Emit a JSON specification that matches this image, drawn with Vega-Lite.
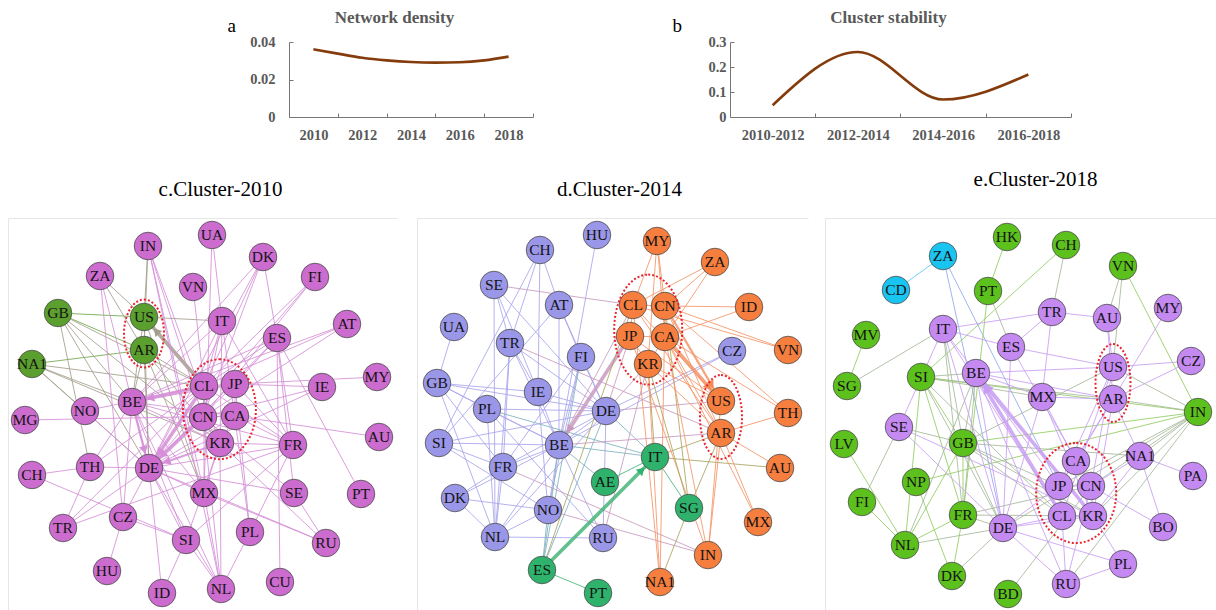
{
  "$schema": "https://vega.github.io/schema/vega-lite/v6.json",
  "width": 1216,
  "height": 610,
  "autosize": {"type": "none"},
  "padding": 0,
  "background": "white",
  "config": {
    "view": {"stroke": null},
    "font": "Liberation Serif",
    "axis": {
      "labelFont": "Liberation Serif",
      "labelFontWeight": "bold",
      "labelFontSize": 14.5,
      "labelColor": "#595959",
      "domainColor": "#767676",
      "tickColor": "#767676",
      "titleFont": "Liberation Serif",
      "grid": false
    }
  },
  "datasets": {
    "density": [
      {"year": 2010, "density": 0.0361},
      {"year": 2011, "density": 0.0338},
      {"year": 2012, "density": 0.0316},
      {"year": 2013, "density": 0.0302},
      {"year": 2014, "density": 0.0293},
      {"year": 2015, "density": 0.029},
      {"year": 2016, "density": 0.0292},
      {"year": 2017, "density": 0.0302},
      {"year": 2018, "density": 0.0322}
    ],
    "stability": [
      {"period": "2010-2012", "stability": 0.047},
      {"period": "2012-2014", "stability": 0.26},
      {"period": "2014-2016", "stability": 0.07},
      {"period": "2016-2018", "stability": 0.17}
    ],
    "nodesC": [
      {"id": "UA", "x": 204, "y": 17, "group": "c1"},
      {"id": "IN", "x": 140, "y": 28, "group": "c1"},
      {"id": "DK", "x": 255, "y": 39, "group": "c1"},
      {"id": "ZA", "x": 92, "y": 58, "group": "c1"},
      {"id": "VN", "x": 185, "y": 69, "group": "c1"},
      {"id": "FI", "x": 307, "y": 59, "group": "c1"},
      {"id": "GB", "x": 50, "y": 95, "group": "c2"},
      {"id": "US", "x": 136, "y": 99, "group": "c2"},
      {"id": "IT", "x": 214, "y": 103, "group": "c1"},
      {"id": "ES", "x": 269, "y": 120, "group": "c1"},
      {"id": "AT", "x": 339, "y": 106, "group": "c1"},
      {"id": "AR", "x": 136, "y": 132, "group": "c2"},
      {"id": "NA1", "x": 24, "y": 146, "group": "c2"},
      {"id": "CL", "x": 196, "y": 168, "group": "c1"},
      {"id": "JP", "x": 227, "y": 166, "group": "c1"},
      {"id": "IE", "x": 314, "y": 169, "group": "c1"},
      {"id": "MY", "x": 369, "y": 159, "group": "c1"},
      {"id": "BE", "x": 124, "y": 184, "group": "c1"},
      {"id": "NO", "x": 77, "y": 193, "group": "c1"},
      {"id": "MG", "x": 17, "y": 202, "group": "c1"},
      {"id": "CN", "x": 195, "y": 199, "group": "c1"},
      {"id": "CA", "x": 227, "y": 198, "group": "c1"},
      {"id": "AU", "x": 371, "y": 219, "group": "c1"},
      {"id": "KR", "x": 212, "y": 225, "group": "c1"},
      {"id": "FR", "x": 285, "y": 227, "group": "c1"},
      {"id": "CH", "x": 24, "y": 257, "group": "c1"},
      {"id": "TH", "x": 82, "y": 249, "group": "c1"},
      {"id": "DE", "x": 141, "y": 250, "group": "c1"},
      {"id": "MX", "x": 196, "y": 275, "group": "c1"},
      {"id": "SE", "x": 286, "y": 275, "group": "c1"},
      {"id": "PT", "x": 353, "y": 276, "group": "c1"},
      {"id": "TR", "x": 55, "y": 310, "group": "c1"},
      {"id": "CZ", "x": 115, "y": 299, "group": "c1"},
      {"id": "SI", "x": 178, "y": 322, "group": "c1"},
      {"id": "PL", "x": 242, "y": 314, "group": "c1"},
      {"id": "RU", "x": 318, "y": 325, "group": "c1"},
      {"id": "HU", "x": 99, "y": 353, "group": "c1"},
      {"id": "CU", "x": 272, "y": 364, "group": "c1"},
      {"id": "ID", "x": 154, "y": 375, "group": "c1"},
      {"id": "NL", "x": 213, "y": 371, "group": "c1"}
    ],
    "linksC": [
      {"source": "GB", "target": "US", "weight": 1}, {"source": "GB", "target": "AR", "weight": 1},
      {"source": "NA1", "target": "AR", "weight": 1}, {"source": "GB", "target": "BE", "weight": 1},
      {"source": "GB", "target": "DE", "weight": 1}, {"source": "GB", "target": "CL", "weight": 1},
      {"source": "GB", "target": "TH", "weight": 1}, {"source": "GB", "target": "KR", "weight": 1},
      {"source": "NA1", "target": "BE", "weight": 1}, {"source": "NA1", "target": "CL", "weight": 1},
      {"source": "NA1", "target": "NO", "weight": 1}, {"source": "NA1", "target": "DE", "weight": 1},
      {"source": "NA1", "target": "KR", "weight": 1},
      {"source": "US", "target": "IN", "weight": 1}, {"source": "US", "target": "ZA", "weight": 1},
      {"source": "US", "target": "IT", "weight": 1}, {"source": "CL", "target": "US", "weight": 3},
      {"source": "US", "target": "BE", "weight": 1}, {"source": "US", "target": "DE", "weight": 1},
      {"source": "US", "target": "MX", "weight": 1},
      {"source": "AR", "target": "BE", "weight": 1}, {"source": "AR", "target": "DE", "weight": 1},
      {"source": "AR", "target": "CL", "weight": 1}, {"source": "AR", "target": "MX", "weight": 1},
      {"source": "AR", "target": "KR", "weight": 1}, {"source": "AR", "target": "ZA", "weight": 1},
      {"source": "AR", "target": "IN", "weight": 1},
      {"source": "IN", "target": "CN", "weight": 1}, {"source": "IN", "target": "KR", "weight": 1},
      {"source": "IN", "target": "NL", "weight": 1}, {"source": "IN", "target": "MX", "weight": 1},
      {"source": "ZA", "target": "CZ", "weight": 1}, {"source": "ZA", "target": "DE", "weight": 1},
      {"source": "UA", "target": "IT", "weight": 1}, {"source": "UA", "target": "MX", "weight": 1},
      {"source": "VN", "target": "CL", "weight": 1},
      {"source": "DK", "target": "BE", "weight": 1}, {"source": "DK", "target": "DE", "weight": 1},
      {"source": "DK", "target": "CN", "weight": 1}, {"source": "DK", "target": "ES", "weight": 1},
      {"source": "DK", "target": "CL", "weight": 1},
      {"source": "FI", "target": "CN", "weight": 1}, {"source": "FI", "target": "CL", "weight": 1},
      {"source": "FI", "target": "DE", "weight": 1},
      {"source": "IT", "target": "BE", "weight": 1}, {"source": "IT", "target": "DE", "weight": 1},
      {"source": "IT", "target": "CN", "weight": 1}, {"source": "IT", "target": "CL", "weight": 1},
      {"source": "IT", "target": "FR", "weight": 1}, {"source": "IT", "target": "KR", "weight": 1},
      {"source": "IT", "target": "PL", "weight": 1},
      {"source": "ES", "target": "CL", "weight": 1}, {"source": "ES", "target": "BE", "weight": 1},
      {"source": "ES", "target": "FR", "weight": 1}, {"source": "ES", "target": "SE", "weight": 1},
      {"source": "ES", "target": "CU", "weight": 1}, {"source": "ES", "target": "PT", "weight": 1},
      {"source": "ES", "target": "JP", "weight": 1}, {"source": "ES", "target": "DE", "weight": 1},
      {"source": "AT", "target": "CL", "weight": 1}, {"source": "AT", "target": "BE", "weight": 1},
      {"source": "AT", "target": "CN", "weight": 1},
      {"source": "IE", "target": "JP", "weight": 1}, {"source": "IE", "target": "CN", "weight": 1},
      {"source": "IE", "target": "DE", "weight": 1},
      {"source": "MY", "target": "JP", "weight": 1}, {"source": "MG", "target": "CA", "weight": 1},
      {"source": "AU", "target": "CA", "weight": 1},
      {"source": "FR", "target": "CL", "weight": 1}, {"source": "FR", "target": "DE", "weight": 1},
      {"source": "FR", "target": "KR", "weight": 1}, {"source": "FR", "target": "BE", "weight": 1},
      {"source": "FR", "target": "TR", "weight": 1}, {"source": "FR", "target": "SI", "weight": 1},
      {"source": "FR", "target": "JP", "weight": 1}, {"source": "FR", "target": "CA", "weight": 1},
      {"source": "CH", "target": "TH", "weight": 1}, {"source": "CH", "target": "SI", "weight": 1},
      {"source": "TH", "target": "TR", "weight": 1}, {"source": "TH", "target": "DE", "weight": 1},
      {"source": "TH", "target": "CL", "weight": 1}, {"source": "TH", "target": "BE", "weight": 1},
      {"source": "TR", "target": "DE", "weight": 1}, {"source": "TR", "target": "CL", "weight": 1},
      {"source": "CZ", "target": "BE", "weight": 1}, {"source": "CZ", "target": "DE", "weight": 1},
      {"source": "CZ", "target": "HU", "weight": 1}, {"source": "CZ", "target": "SI", "weight": 1},
      {"source": "ID", "target": "SI", "weight": 1}, {"source": "ID", "target": "DE", "weight": 1},
      {"source": "NL", "target": "DE", "weight": 1}, {"source": "NL", "target": "SI", "weight": 1},
      {"source": "NL", "target": "BE", "weight": 1}, {"source": "NL", "target": "PL", "weight": 1},
      {"source": "NL", "target": "MX", "weight": 1}, {"source": "NL", "target": "KR", "weight": 1},
      {"source": "NL", "target": "CN", "weight": 1},
      {"source": "PL", "target": "JP", "weight": 1}, {"source": "PL", "target": "FR", "weight": 1},
      {"source": "RU", "target": "MX", "weight": 1}, {"source": "RU", "target": "SE", "weight": 1},
      {"source": "RU", "target": "KR", "weight": 1}, {"source": "RU", "target": "DE", "weight": 1},
      {"source": "SE", "target": "DE", "weight": 1}, {"source": "SE", "target": "CN", "weight": 1},
      {"source": "MX", "target": "DE", "weight": 1}, {"source": "MX", "target": "KR", "weight": 1},
      {"source": "MX", "target": "CL", "weight": 1}, {"source": "MX", "target": "BE", "weight": 1},
      {"source": "SI", "target": "DE", "weight": 1}, {"source": "SI", "target": "BE", "weight": 1},
      {"source": "SI", "target": "KR", "weight": 1},
      {"source": "NO", "target": "DE", "weight": 1}, {"source": "NO", "target": "CL", "weight": 1},
      {"source": "BE", "target": "DE", "weight": 2}, {"source": "CL", "target": "BE", "weight": 3},
      {"source": "BE", "target": "KR", "weight": 1}, {"source": "BE", "target": "CA", "weight": 1},
      {"source": "BE", "target": "JP", "weight": 1},
      {"source": "CN", "target": "DE", "weight": 3}, {"source": "CL", "target": "DE", "weight": 3},
      {"source": "KR", "target": "DE", "weight": 2}, {"source": "DE", "target": "JP", "weight": 1},
      {"source": "DE", "target": "CA", "weight": 1},
      {"source": "CL", "target": "JP", "weight": 1}, {"source": "CL", "target": "CN", "weight": 1},
      {"source": "CN", "target": "CA", "weight": 1}, {"source": "JP", "target": "CA", "weight": 1},
      {"source": "KR", "target": "CN", "weight": 1}, {"source": "KR", "target": "CA", "weight": 1}
    ],
    "ringsC": [
      {"ring": "US-AR", "node": "US"}, {"ring": "US-AR", "node": "AR"},
      {"ring": "core", "node": "CL"}, {"ring": "core", "node": "JP"}, {"ring": "core", "node": "CN"},
      {"ring": "core", "node": "CA"}, {"ring": "core", "node": "KR"}
    ],
    "nodesD": [
      {"id": "HU", "x": 180, "y": 17, "group": "d1"},
      {"id": "MY", "x": 240, "y": 23, "group": "d2"},
      {"id": "CH", "x": 123, "y": 32, "group": "d1"},
      {"id": "ZA", "x": 298, "y": 44, "group": "d2"},
      {"id": "SE", "x": 77, "y": 67, "group": "d1"},
      {"id": "AT", "x": 142, "y": 87, "group": "d1"},
      {"id": "CL", "x": 216, "y": 87, "group": "d2"},
      {"id": "CN", "x": 248, "y": 88, "group": "d2"},
      {"id": "ID", "x": 332, "y": 89, "group": "d2"},
      {"id": "UA", "x": 37, "y": 109, "group": "d1"},
      {"id": "TR", "x": 93, "y": 125, "group": "d1"},
      {"id": "JP", "x": 213, "y": 118, "group": "d2"},
      {"id": "CA", "x": 248, "y": 119, "group": "d2"},
      {"id": "VN", "x": 371, "y": 132, "group": "d2"},
      {"id": "FI", "x": 164, "y": 139, "group": "d1"},
      {"id": "CZ", "x": 315, "y": 133, "group": "d1"},
      {"id": "KR", "x": 231, "y": 146, "group": "d2"},
      {"id": "GB", "x": 20, "y": 165, "group": "d1"},
      {"id": "IE", "x": 121, "y": 174, "group": "d1"},
      {"id": "PL", "x": 70, "y": 191, "group": "d1"},
      {"id": "DE", "x": 189, "y": 193, "group": "d1"},
      {"id": "US", "x": 304, "y": 183, "group": "d2"},
      {"id": "TH", "x": 371, "y": 195, "group": "d2"},
      {"id": "SI", "x": 22, "y": 225, "group": "d1"},
      {"id": "BE", "x": 142, "y": 227, "group": "d1"},
      {"id": "AR", "x": 304, "y": 215, "group": "d2"},
      {"id": "IT", "x": 238, "y": 239, "group": "d3"},
      {"id": "FR", "x": 86, "y": 249, "group": "d1"},
      {"id": "AU", "x": 363, "y": 250, "group": "d2"},
      {"id": "AE", "x": 188, "y": 264, "group": "d3"},
      {"id": "DK", "x": 38, "y": 280, "group": "d1"},
      {"id": "SG", "x": 272, "y": 290, "group": "d3"},
      {"id": "NO", "x": 131, "y": 292, "group": "d1"},
      {"id": "MX", "x": 341, "y": 304, "group": "d2"},
      {"id": "NL", "x": 78, "y": 319, "group": "d1"},
      {"id": "RU", "x": 186, "y": 320, "group": "d1"},
      {"id": "IN", "x": 291, "y": 337, "group": "d2"},
      {"id": "ES", "x": 125, "y": 352, "group": "d3"},
      {"id": "NA1", "x": 243, "y": 364, "group": "d2"},
      {"id": "PT", "x": 181, "y": 375, "group": "d3"}
    ],
    "linksD": [
      {"source": "CH", "target": "TR", "weight": 1}, {"source": "CH", "target": "AT", "weight": 1},
      {"source": "CH", "target": "SI", "weight": 1}, {"source": "CH", "target": "IE", "weight": 1},
      {"source": "SE", "target": "TR", "weight": 1}, {"source": "SE", "target": "IE", "weight": 1},
      {"source": "SE", "target": "CL", "weight": 1}, {"source": "SE", "target": "NL", "weight": 1},
      {"source": "SE", "target": "DE", "weight": 1}, {"source": "HU", "target": "BE", "weight": 1},
      {"source": "AT", "target": "FI", "weight": 1}, {"source": "AT", "target": "DE", "weight": 1},
      {"source": "AT", "target": "BE", "weight": 1}, {"source": "AT", "target": "SI", "weight": 1},
      {"source": "UA", "target": "GB", "weight": 1},
      {"source": "TR", "target": "IE", "weight": 1}, {"source": "TR", "target": "FR", "weight": 1},
      {"source": "TR", "target": "BE", "weight": 1}, {"source": "TR", "target": "DE", "weight": 1},
      {"source": "TR", "target": "AR", "weight": 1}, {"source": "TR", "target": "NL", "weight": 1},
      {"source": "FI", "target": "DE", "weight": 1}, {"source": "FI", "target": "BE", "weight": 1},
      {"source": "FI", "target": "NO", "weight": 1}, {"source": "FI", "target": "FR", "weight": 1},
      {"source": "FI", "target": "ES", "weight": 1},
      {"source": "GB", "target": "IE", "weight": 1}, {"source": "GB", "target": "DE", "weight": 1},
      {"source": "GB", "target": "PL", "weight": 1}, {"source": "GB", "target": "BE", "weight": 1},
      {"source": "GB", "target": "FR", "weight": 1}, {"source": "GB", "target": "NL", "weight": 1},
      {"source": "IE", "target": "BE", "weight": 1}, {"source": "IE", "target": "DE", "weight": 1},
      {"source": "IE", "target": "NO", "weight": 1},
      {"source": "PL", "target": "BE", "weight": 1}, {"source": "PL", "target": "DE", "weight": 1},
      {"source": "PL", "target": "IT", "weight": 1}, {"source": "PL", "target": "NL", "weight": 1},
      {"source": "PL", "target": "RU", "weight": 1},
      {"source": "SI", "target": "BE", "weight": 1}, {"source": "SI", "target": "FR", "weight": 1},
      {"source": "SI", "target": "DE", "weight": 1}, {"source": "SI", "target": "NO", "weight": 1},
      {"source": "FR", "target": "BE", "weight": 1}, {"source": "FR", "target": "DE", "weight": 1},
      {"source": "FR", "target": "DK", "weight": 1}, {"source": "FR", "target": "NL", "weight": 1},
      {"source": "FR", "target": "IN", "weight": 1},
      {"source": "DK", "target": "NO", "weight": 1}, {"source": "DK", "target": "NL", "weight": 1},
      {"source": "DK", "target": "BE", "weight": 1},
      {"source": "NL", "target": "BE", "weight": 1}, {"source": "NL", "target": "RU", "weight": 1},
      {"source": "NL", "target": "NO", "weight": 1}, {"source": "NL", "target": "DE", "weight": 1},
      {"source": "NO", "target": "BE", "weight": 1}, {"source": "NO", "target": "IN", "weight": 1},
      {"source": "NO", "target": "ES", "weight": 1},
      {"source": "RU", "target": "DE", "weight": 1}, {"source": "RU", "target": "BE", "weight": 1},
      {"source": "RU", "target": "KR", "weight": 1},
      {"source": "DE", "target": "BE", "weight": 1}, {"source": "DE", "target": "CZ", "weight": 1},
      {"source": "DE", "target": "US", "weight": 1}, {"source": "DE", "target": "IT", "weight": 1},
      {"source": "DE", "target": "JP", "weight": 1}, {"source": "DE", "target": "KR", "weight": 1},
      {"source": "CZ", "target": "BE", "weight": 1},
      {"source": "BE", "target": "AR", "weight": 1}, {"source": "BE", "target": "IT", "weight": 1},
      {"source": "JP", "target": "BE", "weight": 3}, {"source": "BE", "target": "CL", "weight": 1},
      {"source": "IT", "target": "AE", "weight": 1}, {"source": "IT", "target": "SG", "weight": 1},
      {"source": "IT", "target": "AU", "weight": 1}, {"source": "IT", "target": "AR", "weight": 1},
      {"source": "IT", "target": "KR", "weight": 1}, {"source": "ES", "target": "IT", "weight": 3},
      {"source": "ES", "target": "PT", "weight": 1}, {"source": "ES", "target": "BE", "weight": 1},
      {"source": "ES", "target": "DE", "weight": 1}, {"source": "ES", "target": "CL", "weight": 1},
      {"source": "AE", "target": "BE", "weight": 1}, {"source": "SG", "target": "AR", "weight": 1},
      {"source": "SG", "target": "CN", "weight": 1},
      {"source": "MY", "target": "CL", "weight": 1}, {"source": "MY", "target": "CN", "weight": 1},
      {"source": "MY", "target": "CA", "weight": 1}, {"source": "MY", "target": "KR", "weight": 1},
      {"source": "ZA", "target": "CN", "weight": 1}, {"source": "ZA", "target": "CA", "weight": 1},
      {"source": "ZA", "target": "CL", "weight": 1},
      {"source": "ID", "target": "CN", "weight": 1}, {"source": "ID", "target": "CA", "weight": 1},
      {"source": "VN", "target": "CN", "weight": 1}, {"source": "VN", "target": "CL", "weight": 1},
      {"source": "TH", "target": "CN", "weight": 1}, {"source": "TH", "target": "AR", "weight": 1},
      {"source": "TH", "target": "CA", "weight": 1},
      {"source": "CA", "target": "US", "weight": 3}, {"source": "CN", "target": "US", "weight": 2},
      {"source": "CL", "target": "AR", "weight": 1}, {"source": "CL", "target": "US", "weight": 1},
      {"source": "JP", "target": "US", "weight": 1}, {"source": "KR", "target": "US", "weight": 1},
      {"source": "KR", "target": "AR", "weight": 1}, {"source": "KR", "target": "NA1", "weight": 1},
      {"source": "CN", "target": "NA1", "weight": 1}, {"source": "JP", "target": "IN", "weight": 1},
      {"source": "CA", "target": "IN", "weight": 1}, {"source": "AR", "target": "IN", "weight": 1},
      {"source": "US", "target": "IN", "weight": 1}, {"source": "AR", "target": "MX", "weight": 1},
      {"source": "AR", "target": "AU", "weight": 1}, {"source": "CA", "target": "MX", "weight": 1},
      {"source": "KR", "target": "SG", "weight": 1}, {"source": "NA1", "target": "SG", "weight": 1},
      {"source": "NA1", "target": "CL", "weight": 1}, {"source": "CA", "target": "AR", "weight": 1},
      {"source": "CN", "target": "AR", "weight": 1},
      {"source": "CL", "target": "CN", "weight": 1}, {"source": "CL", "target": "JP", "weight": 1},
      {"source": "CN", "target": "CA", "weight": 1}, {"source": "JP", "target": "CA", "weight": 1},
      {"source": "JP", "target": "KR", "weight": 1}, {"source": "CA", "target": "KR", "weight": 1}
    ],
    "ringsD": [
      {"ring": "US-AR", "node": "US"}, {"ring": "US-AR", "node": "AR"},
      {"ring": "core", "node": "CL"}, {"ring": "core", "node": "CN"}, {"ring": "core", "node": "JP"},
      {"ring": "core", "node": "CA"}, {"ring": "core", "node": "KR"}
    ],
    "nodesE": [
      {"id": "HK", "x": 182, "y": 19, "group": "e2"},
      {"id": "CH", "x": 241, "y": 27, "group": "e2"},
      {"id": "ZA", "x": 118, "y": 38, "group": "e3"},
      {"id": "VN", "x": 298, "y": 48, "group": "e2"},
      {"id": "CD", "x": 71, "y": 72, "group": "e3"},
      {"id": "PT", "x": 163, "y": 73, "group": "e2"},
      {"id": "TR", "x": 227, "y": 94, "group": "e1"},
      {"id": "MY", "x": 343, "y": 90, "group": "e1"},
      {"id": "AU", "x": 282, "y": 100, "group": "e1"},
      {"id": "IT", "x": 118, "y": 111, "group": "e1"},
      {"id": "MV", "x": 41, "y": 117, "group": "e2"},
      {"id": "ES", "x": 186, "y": 129, "group": "e1"},
      {"id": "CZ", "x": 366, "y": 143, "group": "e1"},
      {"id": "US", "x": 288, "y": 149, "group": "e1"},
      {"id": "SI", "x": 96, "y": 159, "group": "e2"},
      {"id": "BE", "x": 151, "y": 155, "group": "e1"},
      {"id": "SG", "x": 22, "y": 168, "group": "e2"},
      {"id": "MX", "x": 217, "y": 179, "group": "e1"},
      {"id": "AR", "x": 288, "y": 181, "group": "e1"},
      {"id": "IN", "x": 373, "y": 194, "group": "e2"},
      {"id": "SE", "x": 74, "y": 209, "group": "e1"},
      {"id": "GB", "x": 138, "y": 225, "group": "e2"},
      {"id": "LV", "x": 19, "y": 226, "group": "e2"},
      {"id": "NA1", "x": 315, "y": 238, "group": "e1"},
      {"id": "CA", "x": 251, "y": 243, "group": "e1"},
      {"id": "PA", "x": 368, "y": 258, "group": "e1"},
      {"id": "NP", "x": 91, "y": 264, "group": "e2"},
      {"id": "JP", "x": 234, "y": 268, "group": "e1"},
      {"id": "CN", "x": 266, "y": 268, "group": "e1"},
      {"id": "FI", "x": 37, "y": 284, "group": "e2"},
      {"id": "FR", "x": 138, "y": 297, "group": "e2"},
      {"id": "CL", "x": 237, "y": 298, "group": "e1"},
      {"id": "KR", "x": 268, "y": 298, "group": "e1"},
      {"id": "DE", "x": 178, "y": 310, "group": "e1"},
      {"id": "BO", "x": 338, "y": 309, "group": "e1"},
      {"id": "NL", "x": 80, "y": 327, "group": "e2"},
      {"id": "PL", "x": 298, "y": 346, "group": "e1"},
      {"id": "DK", "x": 127, "y": 358, "group": "e2"},
      {"id": "RU", "x": 241, "y": 366, "group": "e1"},
      {"id": "BD", "x": 183, "y": 376, "group": "e2"}
    ],
    "linksE": [
      {"source": "ZA", "target": "CD", "weight": 1}, {"source": "ZA", "target": "JP", "weight": 1},
      {"source": "ZA", "target": "DE", "weight": 1},
      {"source": "HK", "target": "PT", "weight": 1}, {"source": "PT", "target": "FR", "weight": 1},
      {"source": "PT", "target": "ES", "weight": 1},
      {"source": "CH", "target": "TR", "weight": 1}, {"source": "CH", "target": "SI", "weight": 1},
      {"source": "VN", "target": "AU", "weight": 1}, {"source": "VN", "target": "US", "weight": 1},
      {"source": "VN", "target": "IN", "weight": 1},
      {"source": "MV", "target": "SG", "weight": 1}, {"source": "SG", "target": "IT", "weight": 1},
      {"source": "SI", "target": "BE", "weight": 1}, {"source": "SI", "target": "GB", "weight": 1},
      {"source": "SI", "target": "FR", "weight": 1}, {"source": "SI", "target": "MX", "weight": 1},
      {"source": "SI", "target": "AR", "weight": 1}, {"source": "SI", "target": "IN", "weight": 1},
      {"source": "SI", "target": "DE", "weight": 1}, {"source": "SI", "target": "CL", "weight": 1},
      {"source": "SI", "target": "NL", "weight": 1},
      {"source": "LV", "target": "NL", "weight": 1}, {"source": "FI", "target": "NL", "weight": 1},
      {"source": "FI", "target": "SE", "weight": 1}, {"source": "NP", "target": "DK", "weight": 1},
      {"source": "NP", "target": "IN", "weight": 1},
      {"source": "NL", "target": "FR", "weight": 1}, {"source": "NL", "target": "DE", "weight": 1},
      {"source": "NL", "target": "GB", "weight": 1}, {"source": "NL", "target": "BE", "weight": 1},
      {"source": "DK", "target": "FR", "weight": 1}, {"source": "DK", "target": "DE", "weight": 1},
      {"source": "BD", "target": "CN", "weight": 1},
      {"source": "FR", "target": "GB", "weight": 1}, {"source": "FR", "target": "DE", "weight": 1},
      {"source": "FR", "target": "BE", "weight": 1}, {"source": "FR", "target": "CN", "weight": 1},
      {"source": "FR", "target": "KR", "weight": 1},
      {"source": "GB", "target": "BE", "weight": 1}, {"source": "GB", "target": "DE", "weight": 1},
      {"source": "GB", "target": "CL", "weight": 1}, {"source": "GB", "target": "JP", "weight": 1},
      {"source": "GB", "target": "IN", "weight": 1}, {"source": "GB", "target": "KR", "weight": 1},
      {"source": "GB", "target": "US", "weight": 1}, {"source": "GB", "target": "NA1", "weight": 1},
      {"source": "IN", "target": "US", "weight": 1}, {"source": "IN", "target": "AR", "weight": 1},
      {"source": "IN", "target": "CN", "weight": 1}, {"source": "IN", "target": "KR", "weight": 1},
      {"source": "IN", "target": "NA1", "weight": 1}, {"source": "IN", "target": "DE", "weight": 1},
      {"source": "IN", "target": "RU", "weight": 1}, {"source": "IN", "target": "JP", "weight": 1},
      {"source": "IT", "target": "TR", "weight": 1}, {"source": "TR", "target": "AU", "weight": 1},
      {"source": "IT", "target": "ES", "weight": 1}, {"source": "IT", "target": "BE", "weight": 1},
      {"source": "IT", "target": "DE", "weight": 1}, {"source": "IT", "target": "CL", "weight": 1},
      {"source": "IT", "target": "GB", "weight": 1}, {"source": "IT", "target": "FR", "weight": 1},
      {"source": "ES", "target": "TR", "weight": 1}, {"source": "ES", "target": "DE", "weight": 1},
      {"source": "ES", "target": "US", "weight": 1}, {"source": "ES", "target": "CN", "weight": 1},
      {"source": "BE", "target": "US", "weight": 1}, {"source": "CL", "target": "BE", "weight": 3},
      {"source": "KR", "target": "BE", "weight": 3}, {"source": "BE", "target": "DE", "weight": 1},
      {"source": "BE", "target": "MX", "weight": 1}, {"source": "BE", "target": "JP", "weight": 1},
      {"source": "BE", "target": "RU", "weight": 1}, {"source": "BE", "target": "AR", "weight": 1},
      {"source": "TR", "target": "MX", "weight": 1}, {"source": "AU", "target": "US", "weight": 1},
      {"source": "AU", "target": "AR", "weight": 1}, {"source": "MY", "target": "AR", "weight": 1},
      {"source": "CZ", "target": "US", "weight": 1}, {"source": "CZ", "target": "AR", "weight": 1},
      {"source": "US", "target": "CL", "weight": 1}, {"source": "US", "target": "JP", "weight": 1},
      {"source": "US", "target": "CN", "weight": 1}, {"source": "AR", "target": "CA", "weight": 1},
      {"source": "AR", "target": "KR", "weight": 1}, {"source": "AR", "target": "JP", "weight": 1},
      {"source": "AR", "target": "NA1", "weight": 1},
      {"source": "MX", "target": "DE", "weight": 1}, {"source": "MX", "target": "KR", "weight": 1},
      {"source": "MX", "target": "CA", "weight": 1}, {"source": "MX", "target": "AR", "weight": 1},
      {"source": "SE", "target": "IT", "weight": 1}, {"source": "SE", "target": "GB", "weight": 1},
      {"source": "SE", "target": "KR", "weight": 1}, {"source": "SE", "target": "DE", "weight": 1},
      {"source": "NA1", "target": "CN", "weight": 1}, {"source": "NA1", "target": "KR", "weight": 1},
      {"source": "NA1", "target": "BO", "weight": 1}, {"source": "NA1", "target": "PA", "weight": 1},
      {"source": "CN", "target": "BO", "weight": 1}, {"source": "KR", "target": "PL", "weight": 1},
      {"source": "CL", "target": "RU", "weight": 1}, {"source": "CN", "target": "RU", "weight": 1},
      {"source": "DE", "target": "CL", "weight": 1}, {"source": "DE", "target": "JP", "weight": 1},
      {"source": "DE", "target": "KR", "weight": 1}, {"source": "DE", "target": "RU", "weight": 1},
      {"source": "DE", "target": "PL", "weight": 1}, {"source": "RU", "target": "PL", "weight": 1},
      {"source": "CA", "target": "JP", "weight": 1}, {"source": "CA", "target": "CN", "weight": 1},
      {"source": "JP", "target": "CN", "weight": 1}, {"source": "JP", "target": "CL", "weight": 1},
      {"source": "CN", "target": "KR", "weight": 1}, {"source": "CL", "target": "KR", "weight": 1}
    ],
    "ringsE": [
      {"ring": "US-AR", "node": "US"}, {"ring": "US-AR", "node": "AR"},
      {"ring": "core", "node": "CA"}, {"ring": "core", "node": "JP"}, {"ring": "core", "node": "CN"},
      {"ring": "core", "node": "CL"}, {"ring": "core", "node": "KR"}
    ]
  },
  "layer": [
    {
      "data": {"name": "density"},
      "mark": {"type": "line", "interpolate": "monotone", "color": "#843C0C", "strokeWidth": 2.6},
      "encoding": {
        "x": {
          "field": "year", "type": "quantitative",
          "scale": {"domain": [2009, 2019], "range": [289, 533], "nice": false, "zero": false},
          "axis": {
            "orient": "bottom", "offset": -493, "values": [2010, 2012, 2014, 2016, 2018], "format": "d",
            "tickOffset": 24.4, "labelOffset": -24.4, "tickSize": -4, "labelPadding": 15,
            "title": "a", "titleX": 227, "titleY": -86, "titleAlign": "left", "titleBaseline": "alphabetic",
            "titleAngle": 0, "titleFontSize": 19, "titleFontWeight": "normal", "titleColor": "#000000"
          }
        },
        "y": {
          "field": "density", "type": "quantitative",
          "scale": {"domain": [0, 0.04], "range": [117, 42], "nice": false, "zero": false},
          "axis": {
            "orient": "left", "offset": -289, "values": [0, 0.02, 0.04], "format": ".2~f",
            "tickSize": -4, "labelPadding": 18,
            "title": "Network density", "titleX": 105, "titleY": 22, "titleAlign": "center",
            "titleBaseline": "alphabetic", "titleAngle": 0, "titleFontSize": 17, "titleFontWeight": "bold",
            "titleColor": "#595959"
          }
        }
      }
    },
    {
      "data": {"name": "stability"},
      "mark": {"type": "line", "interpolate": "monotone", "color": "#843C0C", "strokeWidth": 2.6},
      "encoding": {
        "x": {
          "field": "period", "type": "ordinal", "sort": null,
          "scale": {"type": "point", "range": [730, 1071], "padding": 0.5},
          "axis": {
            "orient": "bottom", "offset": -493, "labelAngle": 0,
            "tickOffset": 42.6, "labelOffset": -42.6, "tickSize": -4, "labelPadding": 15,
            "title": "b", "titleX": 672, "titleY": -86, "titleAlign": "left", "titleBaseline": "alphabetic",
            "titleAngle": 0, "titleFontSize": 19, "titleFontWeight": "normal", "titleColor": "#000000"
          }
        },
        "y": {
          "field": "stability", "type": "quantitative",
          "scale": {"domain": [0, 0.3], "range": [117, 42], "nice": false, "zero": false},
          "axis": {
            "orient": "left", "offset": -730, "values": [0, 0.1, 0.2, 0.3], "format": ".1~f",
            "tickSize": -4, "labelPadding": 8,
            "title": "Cluster stability", "titleX": 158, "titleY": 22, "titleAlign": "center",
            "titleBaseline": "alphabetic", "titleAngle": 0, "titleFontSize": 17, "titleFontWeight": "bold",
            "titleColor": "#595959"
          }
        }
      }
    },
    {
      "data": {"name": "linksC"},
      "transform": [
        {"lookup": "source", "from": {"data": {"name": "nodesC"}, "key": "id", "fields": ["x", "y", "group"]}, "as": ["sx", "sy", "sg"]},
        {"lookup": "target", "from": {"data": {"name": "nodesC"}, "key": "id", "fields": ["x", "y", "group"]}, "as": ["tx", "ty", "tg"]},
        {"calculate": "datum.sg < datum.tg ? datum.sg + '-' + datum.tg : datum.tg + '-' + datum.sg", "as": "pair"}
      ],
      "mark": {"type": "rule", "opacity": 0.85},
      "encoding": {
        "x": {
          "field": "sx", "type": "quantitative",
          "scale": {"domain": [0, 389], "range": [8, 397], "nice": false, "zero": false},
          "axis": {
            "orient": "top", "offset": -218, "domain": true, "domainColor": "#e6e6e6", "ticks": false, "labels": false,
            "title": "c.Cluster-2010", "titleX": 220, "titleY": -23, "titleAlign": "center",
            "titleBaseline": "alphabetic", "titleAngle": 0, "titleFontSize": 21,
            "titleFontWeight": "normal", "titleColor": "#000000"
          }
        },
        "y": {
          "field": "sy", "type": "quantitative",
          "scale": {"domain": [0, 392], "range": [218, 610], "nice": false, "zero": false},
          "axis": {"orient": "left", "offset": -8, "domain": true, "domainColor": "#e6e6e6", "ticks": false, "labels": false, "title": null}
        },
        "x2": {"field": "tx"},
        "y2": {"field": "ty"},
        "stroke": {
          "field": "pair", "type": "nominal", "legend": null,
          "scale": {
            "domain": ["c1-c1", "c1-c2", "c2-c2", "d1-d1", "d1-d2", "d1-d3", "d2-d2", "d2-d3", "d3-d3", "e1-e1", "e1-e2", "e1-e3", "e2-e2", "e2-e3", "e3-e3"],
            "range": ["#D58ED7", "#A39D8C", "#6FA84A", "#A8A4EC", "#C99AC0", "#7FB2C0", "#F59466", "#A9A55E", "#45B577", "#C89DF2", "#A6B89A", "#8FA8EE", "#92CC63", "#6DC2C8", "#5CC8EE"]
          }
        },
        "strokeWidth": {"field": "weight", "type": "quantitative", "legend": null, "scale": {"domain": [1, 3], "range": [1, 3.6]}}
      }
    },
    {
      "data": {"name": "linksC"},
      "transform": [
        {"filter": "datum.weight >= 2"},
        {"lookup": "source", "from": {"data": {"name": "nodesC"}, "key": "id", "fields": ["x", "y", "group"]}, "as": ["sx", "sy", "sg"]},
        {"lookup": "target", "from": {"data": {"name": "nodesC"}, "key": "id", "fields": ["x", "y", "group"]}, "as": ["tx", "ty", "tg"]},
        {"calculate": "datum.sg < datum.tg ? datum.sg + '-' + datum.tg : datum.tg + '-' + datum.sg", "as": "pair"},
        {"calculate": "atan2(datum.tx - datum.sx, datum.sy - datum.ty) * 180 / PI", "as": "heading"},
        {"calculate": "datum.tx - 20 * sin(datum.heading * PI / 180)", "as": "hx"},
        {"calculate": "datum.ty + 20 * cos(datum.heading * PI / 180)", "as": "hy"}
      ],
      "mark": {"type": "point", "shape": "triangle", "filled": true, "size": 80, "opacity": 1},
      "encoding": {
        "x": {"field": "hx", "type": "quantitative", "scale": {"domain": [0, 389], "range": [8, 397], "nice": false, "zero": false}, "axis": null},
        "y": {"field": "hy", "type": "quantitative", "scale": {"domain": [0, 392], "range": [218, 610], "nice": false, "zero": false}, "axis": null},
        "angle": {"field": "heading", "type": "quantitative", "scale": null},
        "color": {
          "field": "pair", "type": "nominal", "legend": null,
          "scale": {"domain": ["c1-c1", "c1-c2", "d1-d2", "d2-d2", "d3-d3", "e1-e1"], "range": ["#D58ED7", "#A39D8C", "#C99AC0", "#F58A57", "#2FB36C", "#C89DF2"]}
        }
      }
    },
    {
      "data": {"name": "nodesC"},
      "mark": {"type": "point", "shape": "circle", "filled": true, "size": 760, "opacity": 1, "stroke": "#4d4d4d", "strokeWidth": 0.8},
      "encoding": {
        "x": {"field": "x", "type": "quantitative", "scale": {"domain": [0, 389], "range": [8, 397], "nice": false, "zero": false}, "axis": null},
        "y": {"field": "y", "type": "quantitative", "scale": {"domain": [0, 392], "range": [218, 610], "nice": false, "zero": false}, "axis": null},
        "fill": {
          "field": "group", "type": "nominal", "legend": null,
          "scale": {"domain": ["c1", "c2", "d1", "d2", "d3", "e1", "e2", "e3"], "range": ["#CC6CCF", "#5B9F2E", "#9B97E8", "#F67E3F", "#2FB36C", "#C58AF2", "#5DC11D", "#19C5F0"]}
        }
      }
    },
    {
      "data": {"name": "nodesC"},
      "mark": {"type": "text", "font": "Liberation Serif", "fontSize": 15.5, "color": "#141414"},
      "encoding": {
        "x": {"field": "x", "type": "quantitative", "scale": {"domain": [0, 389], "range": [8, 397], "nice": false, "zero": false}, "axis": null},
        "y": {"field": "y", "type": "quantitative", "scale": {"domain": [0, 392], "range": [218, 610], "nice": false, "zero": false}, "axis": null},
        "text": {"field": "id"}
      }
    },
    {
      "data": {"name": "ringsC"},
      "transform": [
        {"filter": "datum.ring === 'US-AR'"},
        {"lookup": "node", "from": {"data": {"name": "nodesC"}, "key": "id", "fields": ["x", "y"]}},
        {"aggregate": [{"op": "mean", "field": "x", "as": "x"}, {"op": "mean", "field": "y", "as": "y"}], "groupby": ["ring"]}
      ],
      "mark": {"type": "point", "filled": false, "opacity": 1, "color": "#E8262F", "strokeWidth": 2, "strokeDash": [2, 2],
               "shape": "M 0 -1 A 0.588 1 0 1 1 0 1 A 0.588 1 0 1 1 0 -1 Z", "size": 4624},
      "encoding": {
        "x": {"field": "x", "type": "quantitative", "scale": {"domain": [0, 389], "range": [8, 397], "nice": false, "zero": false}, "axis": null},
        "y": {"field": "y", "type": "quantitative", "scale": {"domain": [0, 392], "range": [218, 610], "nice": false, "zero": false}, "axis": null}
      }
    },
    {
      "data": {"name": "ringsC"},
      "transform": [
        {"filter": "datum.ring === 'core'"},
        {"lookup": "node", "from": {"data": {"name": "nodesC"}, "key": "id", "fields": ["x", "y"]}},
        {"aggregate": [{"op": "mean", "field": "x", "as": "x"}, {"op": "mean", "field": "y", "as": "y"}], "groupby": ["ring"]}
      ],
      "mark": {"type": "point", "filled": false, "opacity": 1, "color": "#E8262F", "strokeWidth": 2, "strokeDash": [2, 2],
               "shape": "M 0 -1 A 0.73 1 0 1 1 0 1 A 0.73 1 0 1 1 0 -1 Z", "size": 10000},
      "encoding": {
        "x": {"field": "x", "type": "quantitative", "scale": {"domain": [0, 389], "range": [8, 397], "nice": false, "zero": false}, "axis": null},
        "y": {"field": "y", "type": "quantitative", "scale": {"domain": [0, 392], "range": [218, 610], "nice": false, "zero": false}, "axis": null}
      }
    },
    {
      "data": {"name": "linksD"},
      "transform": [
        {"lookup": "source", "from": {"data": {"name": "nodesD"}, "key": "id", "fields": ["x", "y", "group"]}, "as": ["sx", "sy", "sg"]},
        {"lookup": "target", "from": {"data": {"name": "nodesD"}, "key": "id", "fields": ["x", "y", "group"]}, "as": ["tx", "ty", "tg"]},
        {"calculate": "datum.sg < datum.tg ? datum.sg + '-' + datum.tg : datum.tg + '-' + datum.sg", "as": "pair"}
      ],
      "mark": {"type": "rule", "opacity": 0.85},
      "encoding": {
        "x": {
          "field": "sx", "type": "quantitative",
          "scale": {"domain": [0, 391], "range": [417, 808], "nice": false, "zero": false},
          "axis": {
            "orient": "top", "offset": -218, "domain": true, "domainColor": "#e6e6e6", "ticks": false, "labels": false,
            "title": "d.Cluster-2014", "titleX": 619, "titleY": -23, "titleAlign": "center",
            "titleBaseline": "alphabetic", "titleAngle": 0, "titleFontSize": 21,
            "titleFontWeight": "normal", "titleColor": "#000000"
          }
        },
        "y": {
          "field": "sy", "type": "quantitative",
          "scale": {"domain": [0, 392], "range": [218, 610], "nice": false, "zero": false},
          "axis": {"orient": "left", "offset": -417, "domain": true, "domainColor": "#e6e6e6", "ticks": false, "labels": false, "title": null}
        },
        "x2": {"field": "tx"},
        "y2": {"field": "ty"},
        "stroke": {
          "field": "pair", "type": "nominal", "legend": null,
          "scale": {
            "domain": ["c1-c1", "c1-c2", "c2-c2", "d1-d1", "d1-d2", "d1-d3", "d2-d2", "d2-d3", "d3-d3", "e1-e1", "e1-e2", "e1-e3", "e2-e2", "e2-e3", "e3-e3"],
            "range": ["#D58ED7", "#A39D8C", "#6FA84A", "#A8A4EC", "#C99AC0", "#7FB2C0", "#F59466", "#A9A55E", "#45B577", "#C89DF2", "#A6B89A", "#8FA8EE", "#92CC63", "#6DC2C8", "#5CC8EE"]
          }
        },
        "strokeWidth": {"field": "weight", "type": "quantitative", "legend": null, "scale": {"domain": [1, 3], "range": [1, 3.6]}}
      }
    },
    {
      "data": {"name": "linksD"},
      "transform": [
        {"filter": "datum.weight >= 2"},
        {"lookup": "source", "from": {"data": {"name": "nodesD"}, "key": "id", "fields": ["x", "y", "group"]}, "as": ["sx", "sy", "sg"]},
        {"lookup": "target", "from": {"data": {"name": "nodesD"}, "key": "id", "fields": ["x", "y", "group"]}, "as": ["tx", "ty", "tg"]},
        {"calculate": "datum.sg < datum.tg ? datum.sg + '-' + datum.tg : datum.tg + '-' + datum.sg", "as": "pair"},
        {"calculate": "atan2(datum.tx - datum.sx, datum.sy - datum.ty) * 180 / PI", "as": "heading"},
        {"calculate": "datum.tx - 20 * sin(datum.heading * PI / 180)", "as": "hx"},
        {"calculate": "datum.ty + 20 * cos(datum.heading * PI / 180)", "as": "hy"}
      ],
      "mark": {"type": "point", "shape": "triangle", "filled": true, "size": 80, "opacity": 1},
      "encoding": {
        "x": {"field": "hx", "type": "quantitative", "scale": {"domain": [0, 391], "range": [417, 808], "nice": false, "zero": false}, "axis": null},
        "y": {"field": "hy", "type": "quantitative", "scale": {"domain": [0, 392], "range": [218, 610], "nice": false, "zero": false}, "axis": null},
        "angle": {"field": "heading", "type": "quantitative", "scale": null},
        "color": {
          "field": "pair", "type": "nominal", "legend": null,
          "scale": {"domain": ["c1-c1", "c1-c2", "d1-d2", "d2-d2", "d3-d3", "e1-e1"], "range": ["#D58ED7", "#A39D8C", "#C99AC0", "#F58A57", "#2FB36C", "#C89DF2"]}
        }
      }
    },
    {
      "data": {"name": "nodesD"},
      "mark": {"type": "point", "shape": "circle", "filled": true, "size": 760, "opacity": 1, "stroke": "#4d4d4d", "strokeWidth": 0.8},
      "encoding": {
        "x": {"field": "x", "type": "quantitative", "scale": {"domain": [0, 391], "range": [417, 808], "nice": false, "zero": false}, "axis": null},
        "y": {"field": "y", "type": "quantitative", "scale": {"domain": [0, 392], "range": [218, 610], "nice": false, "zero": false}, "axis": null},
        "fill": {
          "field": "group", "type": "nominal", "legend": null,
          "scale": {"domain": ["c1", "c2", "d1", "d2", "d3", "e1", "e2", "e3"], "range": ["#CC6CCF", "#5B9F2E", "#9B97E8", "#F67E3F", "#2FB36C", "#C58AF2", "#5DC11D", "#19C5F0"]}
        }
      }
    },
    {
      "data": {"name": "nodesD"},
      "mark": {"type": "text", "font": "Liberation Serif", "fontSize": 15.5, "color": "#141414"},
      "encoding": {
        "x": {"field": "x", "type": "quantitative", "scale": {"domain": [0, 391], "range": [417, 808], "nice": false, "zero": false}, "axis": null},
        "y": {"field": "y", "type": "quantitative", "scale": {"domain": [0, 392], "range": [218, 610], "nice": false, "zero": false}, "axis": null},
        "text": {"field": "id"}
      }
    },
    {
      "data": {"name": "ringsD"},
      "transform": [
        {"filter": "datum.ring === 'US-AR'"},
        {"lookup": "node", "from": {"data": {"name": "nodesD"}, "key": "id", "fields": ["x", "y"]}},
        {"aggregate": [{"op": "mean", "field": "x", "as": "x"}, {"op": "mean", "field": "y", "as": "y"}], "groupby": ["ring"]}
      ],
      "mark": {"type": "point", "filled": false, "opacity": 1, "color": "#E8262F", "strokeWidth": 2, "strokeDash": [2, 2],
               "shape": "M 0 -1 A 0.5 1 0 1 1 0 1 A 0.5 1 0 1 1 0 -1 Z", "size": 7056},
      "encoding": {
        "x": {"field": "x", "type": "quantitative", "scale": {"domain": [0, 391], "range": [417, 808], "nice": false, "zero": false}, "axis": null},
        "y": {"field": "y", "type": "quantitative", "scale": {"domain": [0, 392], "range": [218, 610], "nice": false, "zero": false}, "axis": null}
      }
    },
    {
      "data": {"name": "ringsD"},
      "transform": [
        {"filter": "datum.ring === 'core'"},
        {"lookup": "node", "from": {"data": {"name": "nodesD"}, "key": "id", "fields": ["x", "y"]}},
        {"aggregate": [{"op": "mean", "field": "x", "as": "x"}, {"op": "mean", "field": "y", "as": "y"}], "groupby": ["ring"]}
      ],
      "mark": {"type": "point", "filled": false, "opacity": 1, "color": "#E8262F", "strokeWidth": 2, "strokeDash": [2, 2],
               "shape": "M 0 -1 A 0.618 1 0 1 1 0 1 A 0.618 1 0 1 1 0 -1 Z", "size": 12100},
      "encoding": {
        "x": {"field": "x", "type": "quantitative", "scale": {"domain": [0, 391], "range": [417, 808], "nice": false, "zero": false}, "axis": null},
        "y": {"field": "y", "type": "quantitative", "scale": {"domain": [0, 392], "range": [218, 610], "nice": false, "zero": false}, "axis": null}
      }
    },
    {
      "data": {"name": "linksE"},
      "transform": [
        {"lookup": "source", "from": {"data": {"name": "nodesE"}, "key": "id", "fields": ["x", "y", "group"]}, "as": ["sx", "sy", "sg"]},
        {"lookup": "target", "from": {"data": {"name": "nodesE"}, "key": "id", "fields": ["x", "y", "group"]}, "as": ["tx", "ty", "tg"]},
        {"calculate": "datum.sg < datum.tg ? datum.sg + '-' + datum.tg : datum.tg + '-' + datum.sg", "as": "pair"}
      ],
      "mark": {"type": "rule", "opacity": 0.85},
      "encoding": {
        "x": {
          "field": "sx", "type": "quantitative",
          "scale": {"domain": [0, 391], "range": [825, 1216], "nice": false, "zero": false},
          "axis": {
            "orient": "top", "offset": -218, "domain": true, "domainColor": "#e6e6e6", "ticks": false, "labels": false,
            "title": "e.Cluster-2018", "titleX": 1035, "titleY": -33, "titleAlign": "center",
            "titleBaseline": "alphabetic", "titleAngle": 0, "titleFontSize": 21,
            "titleFontWeight": "normal", "titleColor": "#000000"
          }
        },
        "y": {
          "field": "sy", "type": "quantitative",
          "scale": {"domain": [0, 392], "range": [218, 610], "nice": false, "zero": false},
          "axis": {"orient": "left", "offset": -825, "domain": true, "domainColor": "#e6e6e6", "ticks": false, "labels": false, "title": null}
        },
        "x2": {"field": "tx"},
        "y2": {"field": "ty"},
        "stroke": {
          "field": "pair", "type": "nominal", "legend": null,
          "scale": {
            "domain": ["c1-c1", "c1-c2", "c2-c2", "d1-d1", "d1-d2", "d1-d3", "d2-d2", "d2-d3", "d3-d3", "e1-e1", "e1-e2", "e1-e3", "e2-e2", "e2-e3", "e3-e3"],
            "range": ["#D58ED7", "#A39D8C", "#6FA84A", "#A8A4EC", "#C99AC0", "#7FB2C0", "#F59466", "#A9A55E", "#45B577", "#C89DF2", "#A6B89A", "#8FA8EE", "#92CC63", "#6DC2C8", "#5CC8EE"]
          }
        },
        "strokeWidth": {"field": "weight", "type": "quantitative", "legend": null, "scale": {"domain": [1, 3], "range": [1, 3.6]}}
      }
    },
    {
      "data": {"name": "linksE"},
      "transform": [
        {"filter": "datum.weight >= 2"},
        {"lookup": "source", "from": {"data": {"name": "nodesE"}, "key": "id", "fields": ["x", "y", "group"]}, "as": ["sx", "sy", "sg"]},
        {"lookup": "target", "from": {"data": {"name": "nodesE"}, "key": "id", "fields": ["x", "y", "group"]}, "as": ["tx", "ty", "tg"]},
        {"calculate": "datum.sg < datum.tg ? datum.sg + '-' + datum.tg : datum.tg + '-' + datum.sg", "as": "pair"},
        {"calculate": "atan2(datum.tx - datum.sx, datum.sy - datum.ty) * 180 / PI", "as": "heading"},
        {"calculate": "datum.tx - 20 * sin(datum.heading * PI / 180)", "as": "hx"},
        {"calculate": "datum.ty + 20 * cos(datum.heading * PI / 180)", "as": "hy"}
      ],
      "mark": {"type": "point", "shape": "triangle", "filled": true, "size": 80, "opacity": 1},
      "encoding": {
        "x": {"field": "hx", "type": "quantitative", "scale": {"domain": [0, 391], "range": [825, 1216], "nice": false, "zero": false}, "axis": null},
        "y": {"field": "hy", "type": "quantitative", "scale": {"domain": [0, 392], "range": [218, 610], "nice": false, "zero": false}, "axis": null},
        "angle": {"field": "heading", "type": "quantitative", "scale": null},
        "color": {
          "field": "pair", "type": "nominal", "legend": null,
          "scale": {"domain": ["c1-c1", "c1-c2", "d1-d2", "d2-d2", "d3-d3", "e1-e1"], "range": ["#D58ED7", "#A39D8C", "#C99AC0", "#F58A57", "#2FB36C", "#C89DF2"]}
        }
      }
    },
    {
      "data": {"name": "nodesE"},
      "mark": {"type": "point", "shape": "circle", "filled": true, "size": 760, "opacity": 1, "stroke": "#4d4d4d", "strokeWidth": 0.8},
      "encoding": {
        "x": {"field": "x", "type": "quantitative", "scale": {"domain": [0, 391], "range": [825, 1216], "nice": false, "zero": false}, "axis": null},
        "y": {"field": "y", "type": "quantitative", "scale": {"domain": [0, 392], "range": [218, 610], "nice": false, "zero": false}, "axis": null},
        "fill": {
          "field": "group", "type": "nominal", "legend": null,
          "scale": {"domain": ["c1", "c2", "d1", "d2", "d3", "e1", "e2", "e3"], "range": ["#CC6CCF", "#5B9F2E", "#9B97E8", "#F67E3F", "#2FB36C", "#C58AF2", "#5DC11D", "#19C5F0"]}
        }
      }
    },
    {
      "data": {"name": "nodesE"},
      "mark": {"type": "text", "font": "Liberation Serif", "fontSize": 15.5, "color": "#141414"},
      "encoding": {
        "x": {"field": "x", "type": "quantitative", "scale": {"domain": [0, 391], "range": [825, 1216], "nice": false, "zero": false}, "axis": null},
        "y": {"field": "y", "type": "quantitative", "scale": {"domain": [0, 392], "range": [218, 610], "nice": false, "zero": false}, "axis": null},
        "text": {"field": "id"}
      }
    },
    {
      "data": {"name": "ringsE"},
      "transform": [
        {"filter": "datum.ring === 'US-AR'"},
        {"lookup": "node", "from": {"data": {"name": "nodesE"}, "key": "id", "fields": ["x", "y"]}},
        {"aggregate": [{"op": "mean", "field": "x", "as": "x"}, {"op": "mean", "field": "y", "as": "y"}], "groupby": ["ring"]}
      ],
      "mark": {"type": "point", "filled": false, "opacity": 1, "color": "#E8262F", "strokeWidth": 2, "strokeDash": [2, 2],
               "shape": "M 0 -1 A 0.449 1 0 1 1 0 1 A 0.449 1 0 1 1 0 -1 Z", "size": 6084},
      "encoding": {
        "x": {"field": "x", "type": "quantitative", "scale": {"domain": [0, 391], "range": [825, 1216], "nice": false, "zero": false}, "axis": null},
        "y": {"field": "y", "type": "quantitative", "scale": {"domain": [0, 392], "range": [218, 610], "nice": false, "zero": false}, "axis": null}
      }
    },
    {
      "data": {"name": "ringsE"},
      "transform": [
        {"filter": "datum.ring === 'core'"},
        {"lookup": "node", "from": {"data": {"name": "nodesE"}, "key": "id", "fields": ["x", "y"]}},
        {"aggregate": [{"op": "mean", "field": "x", "as": "x"}, {"op": "mean", "field": "y", "as": "y"}], "groupby": ["ring"]}
      ],
      "mark": {"type": "point", "filled": false, "opacity": 1, "color": "#E8262F", "strokeWidth": 2, "strokeDash": [2, 2],
               "shape": "M 0 -1 A 0.8 1 0 1 1 0 1 A 0.8 1 0 1 1 0 -1 Z", "size": 10000},
      "encoding": {
        "x": {"field": "x", "type": "quantitative", "scale": {"domain": [0, 391], "range": [825, 1216], "nice": false, "zero": false}, "axis": null},
        "y": {"field": "y", "type": "quantitative", "scale": {"domain": [0, 392], "range": [218, 610], "nice": false, "zero": false}, "axis": null}
      }
    }
  ],
  "resolve": {
    "scale": {"x": "independent", "y": "independent"},
    "axis": {"x": "independent", "y": "independent"}
  }
}
